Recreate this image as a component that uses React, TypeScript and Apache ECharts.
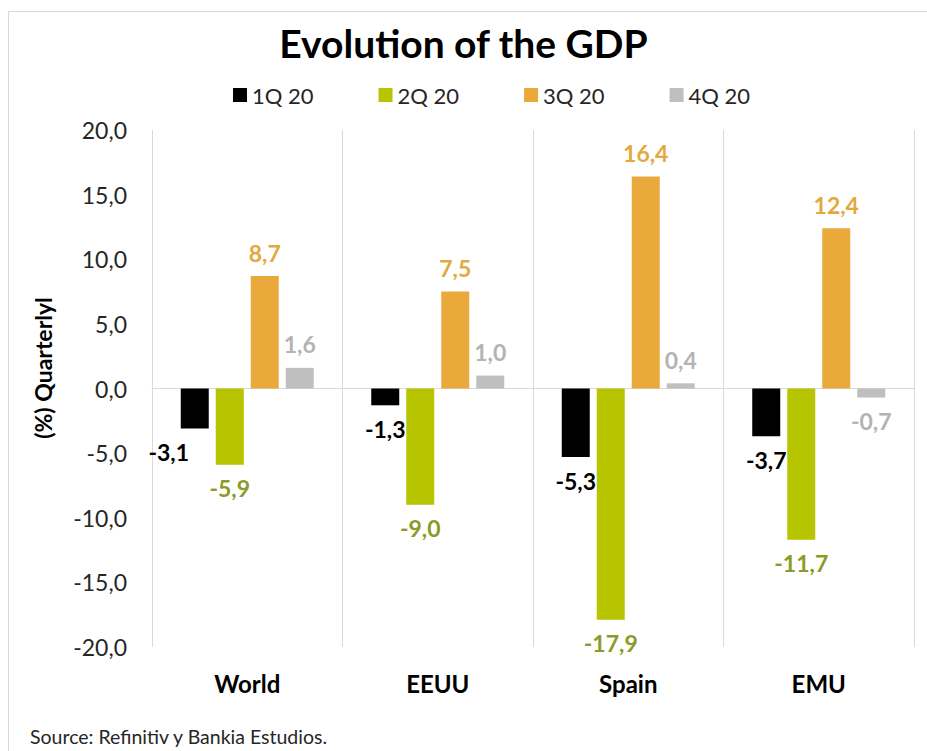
import React, { useEffect, useRef } from "react";
import * as echarts from "echarts";

const categories = ["World", "EEUU", "Spain", "EMU"];
const seriesNames = ["1Q 20", "2Q 20", "3Q 20", "4Q 20"];
const q1 = [-3.1, -1.3, -5.3, -3.7];
const q2 = [-5.9, -9.0, -17.9, -11.7];
const q3 = [8.7, 7.5, 16.4, 12.4];
const q4 = [1.6, 1.0, 0.4, -0.7];
const barColors = ["#000000", "#b7c400", "#eaa93b", "#bfbfbf"];
const labelColors = ["#000000", "#8c9a28", "#e3a83e", "#b3b3b3"];

const FONT = "Lato, 'Open Sans', sans-serif";
const fmt = (v: number) => v.toFixed(1).replace(".", ",");

export default function App() {
  const ref = useRef<HTMLDivElement>(null);
  useEffect(() => {
    document.body.style.margin = "0";
    const chart = echarts.init(ref.current!, null, { renderer: "svg" });
    const all = [q1, q2, q3, q4];
    const series = all.map((vals, i) => ({
      name: seriesNames[i],
      type: "bar",
      barWidth: 28,
      barGap: "25%",
      itemStyle: { color: barColors[i] },
      data: vals.map((v, j) => {
        const item: any = {
          value: v,
          label: {
            show: true,
            position: v >= 0 ? "top" : "bottom",
            distance: 12,
            formatter: () => fmt(v),
            color: labelColors[i],
            fontFamily: FONT,
            fontWeight: "bold",
            fontSize: 23,
          },
        };
        if (i === 0 && j === 0) item.label.offset = [-26, 0];
        return item;
      }),
    }));
    chart.setOption({
      animation: false,
      backgroundColor: "#ffffff",
      title: {
        text: "Evolution of the GDP",
        left: "center",
        top: 18,
        textStyle: { fontFamily: FONT, fontWeight: "bold", fontSize: 39, color: "#000" },
      },
      legend: {
        top: 79,
        left: 228,
        itemWidth: 14,
        itemHeight: 14,
        itemGap: 65,
        icon: "rect",
        data: seriesNames,
        textStyle: { fontFamily: FONT, fontSize: 22, color: "#262626" },
      },
      grid: { left: 152, right: 13, top: 130, bottom: 104 },
      xAxis: {
        type: "category",
        data: categories,
        axisLine: { onZero: true, lineStyle: { color: "#d9d9d9", width: 1 } },
        axisTick: { show: false },
        splitLine: { show: true, lineStyle: { color: "#d9d9d9", width: 1 } },
        axisLabel: {
          interval: 0,
          margin: 24,
          fontFamily: FONT,
          fontWeight: "bold",
          fontSize: 24,
          color: "#000",
        },
      },
      yAxis: {
        type: "value",
        min: -20,
        max: 20,
        interval: 5,
        axisLine: { show: false },
        axisTick: { show: false },
        splitLine: { show: false },
        axisLabel: {
          margin: 25,
          formatter: (v: number) => fmt(v),
          fontFamily: FONT,
          fontSize: 23,
          color: "#262626",
        },
      },
      graphic: [
        {
          type: "rect",
          shape: { x: 8.5, y: 11.5, width: 930, height: 760 },
          style: { fill: "none", stroke: "#d9d9d9", lineWidth: 1 },
          silent: true,
        },
        {
          type: "text",
          x: 43,
          y: 368,
          rotation: Math.PI / 2,
          style: {
            text: "(%) Quarterlyl",
            fontFamily: FONT,
            fontWeight: "bold",
            fontSize: 23,
            fill: "#000",
            align: "center",
            verticalAlign: "middle",
          },
        },
        {
          type: "text",
          left: 30,
          top: 726,
          style: {
            text: "Source: Refinitiv y Bankia Estudios.",
            fontFamily: FONT,
            fontSize: 19.5,
            fill: "#262626",
          },
        },
      ],
      series,
    });
    return () => chart.dispose();
  }, []);
  return <div ref={ref} style={{ width: 927, height: 751 }} />;
}
